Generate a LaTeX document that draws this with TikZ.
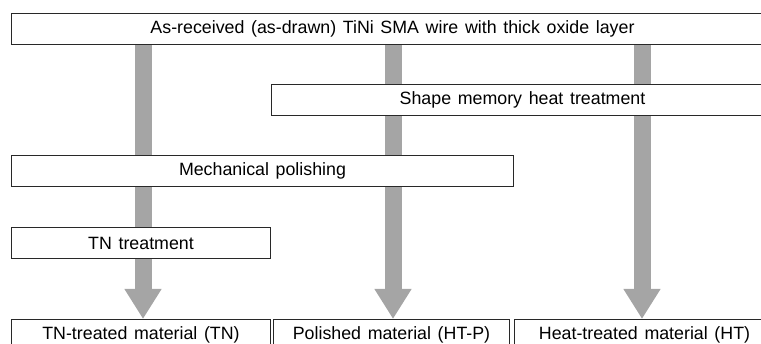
\documentclass[tikz,border=0pt]{standalone}
\usepackage{fontspec}
\setmainfont{Liberation Sans}[WordSpace=1.35]
\usetikzlibrary{arrows.meta}
\definecolor{arrgray}{RGB}{165,165,165}
\definecolor{boxline}{RGB}{40,40,40}
\tikzset{
  box/.style={draw=boxline, line width=1pt, fill=white, rectangle, anchor=north west,
    inner sep=0pt, font=\fontsize{17.8}{20}\selectfont},
  bigarrow/.style={draw=arrgray, line width=17pt,
    -{Triangle[width=35pt,length=30pt]}},
}
\begin{document}
\begin{tikzpicture}[x=1pt,y=-1pt]
\useasboundingbox (0,0) rectangle (761,344);
% boxes
\node[box, minimum width=762pt, minimum height=31pt] (top) at (11,13) {As-received (as-drawn) TiNi SMA wire with thick oxide layer};
\node[box, minimum width=259pt, minimum height=30pt] (tnm) at (11,319) {TN-treated material (TN)};
\node[box, minimum width=236pt, minimum height=30pt] (htp) at (273,319) {Polished material (HT-P)};
\node[box, minimum width=260pt, minimum height=30pt] (ht) at (514,319) {Heat-treated material (HT)};
% arrow columns
\coordinate (c1) at (143,0);
\coordinate (c2) at (393,0);
\coordinate (c3) at (642,0);
\draw[bigarrow] (top.south -| c1) -- (tnm.north -| c1);
\draw[bigarrow] (top.south -| c2) -- (htp.north -| c2);
\draw[bigarrow] (top.south -| c3) -- (ht.north -| c3);
% process boxes over the arrows
\node[box, minimum width=502pt, minimum height=31pt] (sm) at (271,84) {Shape memory heat treatment};
\node[box, minimum width=502pt, minimum height=31pt] (mp) at (11,155) {Mechanical polishing};
\node[box, minimum width=259pt, minimum height=31pt] (tn) at (11,227) {TN treatment};
\end{tikzpicture}
\end{document}
